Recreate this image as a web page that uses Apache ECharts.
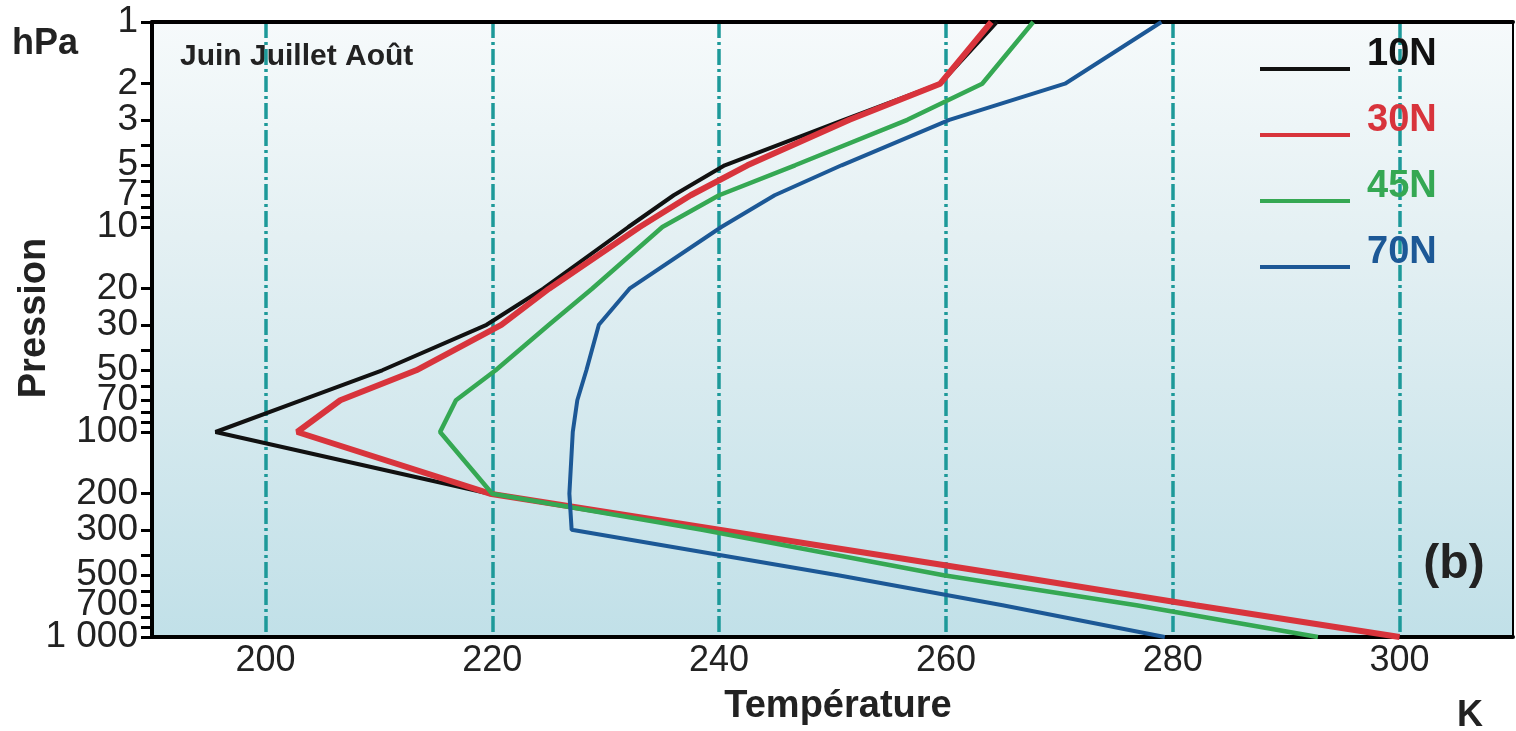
<!DOCTYPE html>
<html>
<head>
<meta charset="utf-8">
<style>
  html, body { margin: 0; padding: 0; background: #fff; }
  #chart { width: 1516px; height: 731px; }
</style>
<script src="https://cdn.jsdelivr.net/npm/echarts@6/dist/echarts.min.js"></script>
</head>
<body>
<div id="chart"></div>
<script>
// niveaux de pression (hPa) et profils de température (K), juin-juillet-août
const pressureLevels = [1, 2, 3, 5, 7, 10, 20, 30, 50, 70, 100, 200, 300, 500, 700, 1000]
const temp10N = [264.5, 259.5, 251, 240.5, 236, 232, 224.5, 219.5, 210.3, 203.2, 195.6, 219.8, 240, 265.5, 282, 300]
const temp30N = [264, 259.5, 251.5, 242.5, 237.5, 233, 225, 220.8, 213.3, 206.6, 202.8, 219.8, 240, 265.5, 282, 300]
const temp45N = [267.7, 263.2, 256.6, 246.7, 240, 235, 228.8, 225, 220.3, 216.8, 215.4, 220, 238.5, 259.8, 276.8, 292.8]
const temp70N = [279, 270.5, 260.3, 250.8, 244.9, 240.2, 232.1, 229.4, 228.3, 227.5, 227.1, 226.8, 227, 250.5, 265, 279.3]

const tempTicks = [200, 220, 240, 260, 280, 300]
// 700 est posé sur un second axe : sinon echarts le masque à côté de 1 000
const pressureLabels = [1, 2, 3, 5, 7, 10, 20, 30, 50, 70, 100, 200, 300, 500, 1000]
const pressureLabelsExtra = [700]
const pressureTicks = [1, 2, 3, 4, 5, 6, 7, 8, 9, 10, 20, 30, 40, 50, 60, 70, 80, 90, 100,
  200, 300, 400, 500, 600, 700, 800, 900, 1000]

const seriesInfo = [
  { name: '10N', data: temp10N, color: '#111111', width: 4 },
  { name: '30N', data: temp30N, color: '#d8343c', width: 6 },
  { name: '45N', data: temp45N, color: '#35a853', width: 4.5 },
  { name: '70N', data: temp70N, color: '#1c5896', width: 4 }
]

const chart = echarts.init(document.getElementById('chart'))
const font = '"Liberation Sans", Arial, sans-serif'

const pressureLabelStyle = {
  showMinLabel: true,
  showMaxLabel: true,
  fontFamily: font,
  fontSize: 37,
  color: '#222',
  margin: 14,
  formatter: v => (v >= 999.9 ? '1 000' : String(Math.round(v)))
}

chart.setOption({
  animation: false,
  grid: {
    left: 152,
    right: 3,
    top: 22,
    bottom: 94,
    show: true,
    borderColor: '#000',
    borderWidth: 2,
    backgroundColor: new echarts.graphic.LinearGradient(0, 0, 0, 1, [
      { offset: 0, color: '#f6fafb' },
      { offset: 0.35, color: '#e4f0f3' },
      { offset: 1, color: '#c1e0e8' }
    ])
  },
  legend: {
    orient: 'vertical',
    left: 1255,
    top: 31,
    icon: 'rect',
    itemWidth: 90,
    itemHeight: 4,
    itemGap: 28,
    data: seriesInfo.map(s => ({
      name: s.name,
      textStyle: { color: s.color }
    })),
    formatter: name => '{t|' + name + '}',
    textStyle: {
      fontFamily: font,
      fontWeight: 'bold',
      fontSize: 38,
      rich: {
        t: {
          fontFamily: font,
          fontWeight: 'bold',
          fontSize: 38,
          padding: [0, 0, 28, 12]
        }
      }
    }
  },
  xAxis: [{
    type: 'value',
    min: 190,
    max: 310,
    axisLine: { lineStyle: { color: '#000', width: 4 } },
    axisTick: { show: false, customValues: tempTicks },
    axisLabel: {
      customValues: tempTicks,
      fontFamily: font,
      fontSize: 36,
      color: '#222',
      margin: 6
    },
    splitLine: {
      show: true,
      lineStyle: { color: '#1d9999', width: 3.5, type: [16, 4, 3, 4] }
    }
  }, {
    type: 'value',
    position: 'top',
    min: 190,
    max: 310,
    axisLine: { show: true, lineStyle: { color: '#000', width: 4 } },
    axisTick: { show: false },
    axisLabel: { show: false },
    splitLine: { show: false }
  }],
  yAxis: [{
    type: 'log',
    logBase: 10,
    min: 1,
    max: 1000,
    inverse: true,
    axisLine: { show: true, lineStyle: { color: '#000', width: 4 } },
    axisTick: {
      show: true,
      length: 11,
      customValues: pressureTicks,
      lineStyle: { color: '#000', width: 3 }
    },
    axisLabel: Object.assign({ customValues: pressureLabels }, pressureLabelStyle),
    splitLine: { show: false }
  }, {
    type: 'log',
    logBase: 10,
    min: 1,
    max: 1000,
    inverse: true,
    position: 'left',
    offset: 0,
    axisLine: { show: false },
    axisTick: { show: false },
    axisLabel: Object.assign({ customValues: pressureLabelsExtra }, pressureLabelStyle),
    splitLine: { show: false }
  }],
  series: seriesInfo.map(s => ({
    name: s.name,
    type: 'line',
    symbol: 'none',
    data: s.data.map((t, i) => [t, pressureLevels[i]]),
    lineStyle: { color: s.color, width: s.width },
    itemStyle: { color: s.color }
  })),
  graphic: [
    {
      type: 'text',
      left: 12, top: 26,
      style: { text: 'hPa', font: 'bold 36px ' + font, fill: '#222' }
    },
    {
      type: 'text',
      x: 35, y: 318,
      rotation: Math.PI / 2,
      style: {
        text: 'Pression', font: 'bold 38px ' + font, fill: '#222',
        align: 'center', verticalAlign: 'middle'
      }
    },
    {
      type: 'text',
      x: 838, y: 707,
      style: {
        text: 'Température', font: 'bold 38px ' + font, fill: '#222',
        align: 'center', verticalAlign: 'middle'
      }
    },
    {
      type: 'text',
      x: 1470, y: 716,
      style: {
        text: 'K', font: 'bold 36px ' + font, fill: '#222',
        align: 'center', verticalAlign: 'middle'
      }
    },
    {
      type: 'text',
      x: 180, y: 57,
      style: {
        text: 'Juin Juillet Août', font: 'bold 30px ' + font, fill: '#222',
        align: 'left', verticalAlign: 'middle'
      }
    },
    {
      type: 'text',
      x: 1454, y: 565,
      style: {
        text: '(b)', font: 'bold 48px ' + font, fill: '#222',
        align: 'center', verticalAlign: 'middle'
      }
    }
  ]
})
</script>
</body>
</html>
